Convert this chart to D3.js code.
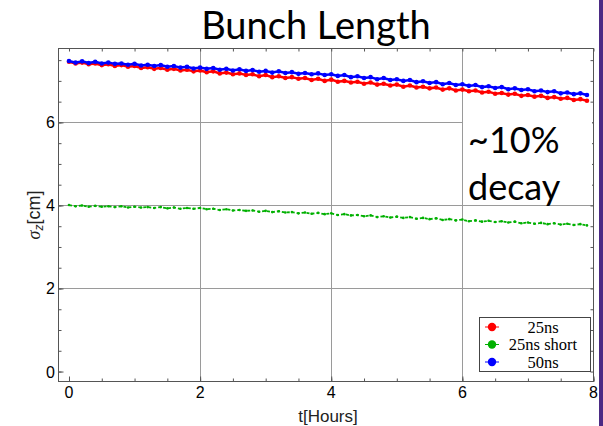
<!DOCTYPE html>
<html>
<head>
<meta charset="utf-8">
<script src="https://cdn.jsdelivr.net/npm/d3@7"></script>
<style>
  body { margin: 0; background: #fff; }
  svg { display: block; }
</style>
</head>
<body>
<svg id="chart" width="603" height="426"></svg>
<script>
  // time in hours
  const hours = [0.0,0.1,0.2,0.3,0.4,0.5,0.6,0.7,0.8,0.9,1.0,1.1,1.2,1.3,1.4,1.5,1.6,1.7,1.8,1.9,
    2.0,2.1,2.2,2.3,2.4,2.5,2.6,2.7,2.8,2.9,3.0,3.1,3.2,3.3,3.4,3.5,3.6,3.7,3.8,3.9,
    4.0,4.1,4.2,4.3,4.4,4.5,4.6,4.7,4.8,4.9,5.0,5.1,5.2,5.3,5.4,5.5,5.6,5.7,5.8,5.9,
    6.0,6.1,6.2,6.3,6.4,6.5,6.6,6.7,6.8,6.9,7.0,7.1,7.2,7.3,7.4,7.5,7.6,7.7,7.8,7.9];

  const sigma25 = [7.46,7.42,7.44,7.40,7.42,7.38,7.40,7.36,7.38,7.34,7.36,7.31,7.33,7.29,7.31,7.27,7.29,7.25,7.27,7.23,
    7.25,7.21,7.23,7.18,7.20,7.16,7.18,7.14,7.16,7.11,7.14,7.09,7.11,7.07,7.09,7.05,7.07,7.02,7.05,7.00,
    7.03,6.98,7.00,6.96,6.98,6.93,6.96,6.91,6.93,6.89,6.91,6.86,6.89,6.84,6.86,6.82,6.84,6.79,6.82,6.77,
    6.79,6.75,6.77,6.72,6.74,6.69,6.71,6.67,6.69,6.64,6.66,6.62,6.64,6.59,6.61,6.57,6.59,6.54,6.56,6.52];

  const sigma25short = [4.01,3.98,4.00,3.97,3.99,3.97,3.98,3.96,3.98,3.95,3.97,3.95,3.96,3.94,3.96,3.93,3.95,3.92,3.94,3.92,
    3.94,3.91,3.92,3.89,3.91,3.88,3.89,3.87,3.88,3.85,3.87,3.84,3.86,3.83,3.84,3.81,3.83,3.80,3.82,3.79,
    3.81,3.77,3.79,3.76,3.77,3.74,3.76,3.72,3.74,3.71,3.73,3.70,3.72,3.68,3.70,3.67,3.69,3.65,3.67,3.64,
    3.66,3.62,3.64,3.61,3.63,3.60,3.62,3.59,3.61,3.57,3.59,3.56,3.58,3.55,3.57,3.54,3.56,3.53,3.55,3.52];

  const sigma50 = [7.48,7.44,7.47,7.43,7.46,7.42,7.44,7.41,7.42,7.39,7.41,7.37,7.39,7.36,7.38,7.34,7.36,7.32,7.34,7.30,
    7.32,7.29,7.31,7.27,7.29,7.25,7.28,7.24,7.26,7.22,7.24,7.20,7.23,7.19,7.21,7.17,7.19,7.16,7.18,7.14,
    7.16,7.12,7.14,7.09,7.11,7.07,7.09,7.04,7.07,7.02,7.04,7.00,7.02,6.97,6.99,6.95,6.97,6.92,6.95,6.90,
    6.92,6.88,6.90,6.85,6.87,6.83,6.85,6.80,6.82,6.78,6.80,6.75,6.77,6.73,6.75,6.70,6.72,6.68,6.70,6.66];

  const seriesNames = ['25ns', '25ns short', '50ns'];
  const seriesColors = ['#ff0000', '#00b000', '#0000ff'];
  const xTicks = [0, 2, 4, 6, 8];
  const yTicks = [0, 2, 4, 6];
  const gridX = [2, 4, 6];
  const gridY = [2, 4, 6];

  const svg = d3.select('#chart');
  const plotL = 58.5, plotR = 593.5, plotT = 48.5, plotB = 381.5;

  const x = d3.scaleLinear().domain([-0.16, 8.0]).range([plotL, plotR]);
  const y = d3.scaleLinear().domain([-0.24, 7.78]).range([plotB, plotT]);

  // grid lines
  svg.append('g').selectAll('line').data(gridX).enter().append('line')
    .attr('x1', d => Math.round(x(d)) + 0.5).attr('x2', d => Math.round(x(d)) + 0.5)
    .attr('y1', plotT).attr('y2', plotB)
    .attr('stroke', '#9a9a9a').attr('stroke-width', 1);
  svg.append('g').selectAll('line').data(gridY).enter().append('line')
    .attr('x1', plotL).attr('x2', plotR)
    .attr('y1', d => Math.round(y(d)) + 0.5).attr('y2', d => Math.round(y(d)) + 0.5)
    .attr('stroke', '#9a9a9a').attr('stroke-width', 1);

  // frame with inward ticks on all sides
  const minor = d3.range(0, 8.01, 0.5);
  const minorY = d3.range(0, 7.51, 0.5);
  function frameAxis(axis, translate, values, size) {
    svg.append('g').attr('transform', translate)
      .call(axis.tickValues(values).tickSize(size).tickFormat(''))
      .call(g => g.select('.domain').remove())
      .selectAll('line').attr('stroke', '#555');
  }
  frameAxis(d3.axisTop(x), `translate(0,${plotB})`, minor, 3);
  frameAxis(d3.axisTop(x), `translate(0,${plotB})`, xTicks, 5);
  frameAxis(d3.axisBottom(x), `translate(0,${plotT})`, minor, 3);
  frameAxis(d3.axisRight(y), `translate(${plotL},0)`, minorY, 3);
  frameAxis(d3.axisRight(y), `translate(${plotL},0)`, yTicks, 5);
  frameAxis(d3.axisLeft(y), `translate(${plotR},0)`, minorY, 3);

  svg.append('rect')
    .attr('x', plotL).attr('y', plotT)
    .attr('width', plotR - plotL).attr('height', plotB - plotT)
    .attr('fill', 'none').attr('stroke', '#555').attr('stroke-width', 1);

  // tick labels
  svg.append('g').selectAll('text').data(xTicks).enter().append('text')
    .attr('x', d => x(d)).attr('y', 398)
    .attr('text-anchor', 'middle')
    .attr('font-family', 'Liberation Sans, Arial, sans-serif').attr('font-size', 16)
    .text(d => d);
  svg.append('g').selectAll('text').data(yTicks).enter().append('text')
    .attr('x', 55).attr('y', d => y(d) + 6)
    .attr('text-anchor', 'end')
    .attr('font-family', 'Liberation Sans, Arial, sans-serif').attr('font-size', 16)
    .text(d => d);

  svg.append('text')
    .attr('x', 328).attr('y', 422)
    .attr('text-anchor', 'middle')
    .attr('font-family', 'Liberation Sans, Arial, sans-serif').attr('font-size', 17)
    .attr('fill', '#222')
    .text('t[Hours]');

  const ylab = svg.append('text')
    .attr('transform', 'translate(40,215) rotate(-90)')
    .attr('text-anchor', 'middle')
    .attr('font-family', 'Liberation Sans, Arial, sans-serif').attr('font-size', 18)
    .attr('fill', '#222');
  ylab.append('tspan').attr('font-family', 'Liberation Serif, serif').attr('font-style', 'italic').text('σ');
  ylab.append('tspan').attr('font-style', 'italic').attr('font-size', 12).attr('dy', 3).text('z');
  ylab.append('tspan').attr('dy', -3).text('[cm]');

  // data
  const allSeries = [sigma25, sigma25short, sigma50];
  const line = d3.line().x(d => x(d[0])).y(d => y(d[1]));
  allSeries.forEach(function(vals, i) {
    const pts = hours.map((h, k) => [h, vals[k]]);
    const g = svg.append('g');
    const isShort = i === 1;
    g.append('path').datum(pts)
      .attr('d', line)
      .attr('fill', 'none')
      .attr('stroke', seriesColors[i])
      .attr('stroke-width', isShort ? 1.8 : 2.5)
      .attr('stroke-dasharray', isShort ? '3 2' : null);
    g.selectAll('circle').data(pts).enter().append('circle')
      .attr('cx', d => x(d[0])).attr('cy', d => y(d[1]))
      .attr('r', isShort ? 1.3 : 2.3)
      .attr('fill', seriesColors[i]);
  });

  // title with white backing over the top frame
  svg.append('rect').attr('x', 175).attr('y', 0).attr('width', 283).attr('height', 47).attr('fill', '#fff');
  svg.append('text')
    .attr('x', 316).attr('y', 39)
    .attr('text-anchor', 'middle')
    .attr('font-family', 'Lato, "Open Sans", sans-serif').attr('font-size', 38)
    .text('Bunch Length');

  // annotation
  svg.append('rect').attr('x', 463).attr('y', 112).attr('width', 129).attr('height', 90).attr('fill', '#fff');
  svg.append('text')
    .attr('x', 468).attr('y', 153)
    .attr('font-family', 'Lato, "Open Sans", sans-serif').attr('font-size', 36)
    .text('~10%');
  svg.append('text')
    .attr('x', 468).attr('y', 200)
    .attr('font-family', 'Lato, "Open Sans", sans-serif').attr('font-size', 36)
    .text('decay');

  // legend
  const legend = svg.append('g');
  legend.append('rect')
    .attr('x', 479.5).attr('y', 317.5).attr('width', 111).attr('height', 54)
    .attr('fill', '#fff').attr('stroke', '#444');
  const rows = legend.selectAll('g.row').data(seriesNames).enter().append('g')
    .attr('transform', (d, i) => `translate(0,${327 + i * 17.5})`);
  rows.append('line')
    .attr('x1', 485).attr('x2', 499).attr('y1', 0).attr('y2', 0)
    .attr('stroke', (d, i) => seriesColors[i]).attr('stroke-width', 1);
  rows.append('circle')
    .attr('cx', 492).attr('cy', 0).attr('r', 4.2)
    .attr('fill', (d, i) => seriesColors[i]);
  rows.append('text')
    .attr('x', 543).attr('y', 5.5)
    .attr('text-anchor', 'middle')
    .attr('font-family', 'Liberation Serif, "Times New Roman", serif').attr('font-size', 16.5)
    .text(d => d);

  // slide edge
  svg.append('rect').attr('x', 599).attr('y', 0).attr('width', 4).attr('height', 426).attr('fill', '#4b2a84');
</script>
</body>
</html>
